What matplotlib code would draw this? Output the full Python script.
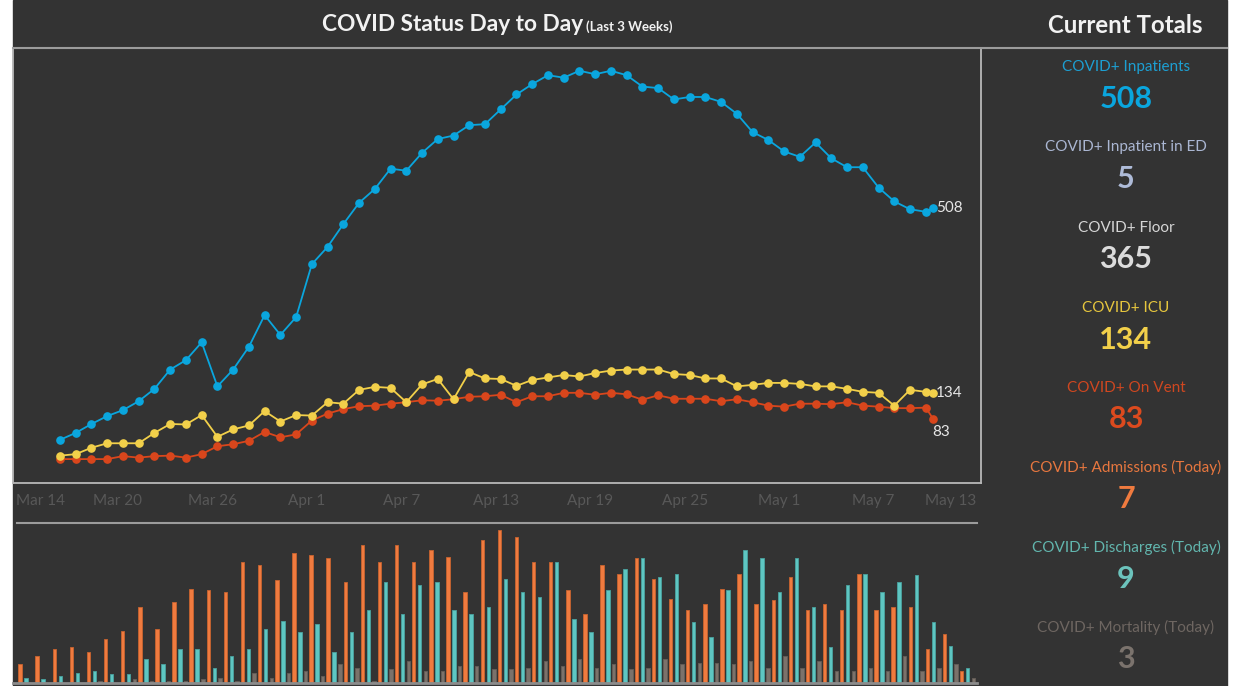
import matplotlib
matplotlib.use('Agg')
import numpy as np
import pandas as pd
import matplotlib.pyplot as plt
import matplotlib.transforms as mtransforms
from matplotlib.patches import Rectangle
from matplotlib.lines import Line2D

plt.rcParams['font.family'] = ['Lato', 'DejaVu Sans']

# ---- data ----
days = pd.date_range('2020-03-16', periods=56, freq='D')
# last point of the census lines is the current (partial) day
line_dates = list(days) + [pd.Timestamp('2020-05-10 11:00')]

inpatients = [40, 54, 72, 88, 100, 118, 143, 182, 201, 237, 148, 182, 228, 292, 252, 288,
              395, 430, 476, 519, 547, 588, 584, 620, 648, 655, 676, 678,
              708, 738, 759, 777, 772, 786, 779, 786, 777, 754, 751, 728, 733, 733,
              723, 699, 662, 646, 623, 612, 641, 609, 591, 591, 550, 522, 506, 501, 508]
icu = [8, 11, 24, 33, 33, 33, 54, 72, 71, 90, 46, 61, 69, 98, 77, 90, 89, 116, 113, 141,
       147, 145, 116, 152, 163, 122, 177, 164, 163,
       149, 161, 166, 171, 168, 175, 180, 182, 182, 182, 173, 171, 164, 164, 148, 151,
       155, 155, 153, 148, 148, 143, 137, 135, 109, 141, 137, 134]
vent = [1, 1, 1, 1, 7, 4, 7, 8, 4, 11, 27, 31, 38, 56, 45, 51, 79, 93, 102, 108, 109,
        113, 116, 120, 119, 122, 127, 128, 131,
        116, 128, 128, 135, 135, 131, 135, 132, 121, 130, 123, 123, 123, 118, 122, 116,
        109, 107, 113, 113, 112, 116, 109, 107, 104, 104, 105, 83]

admissions = [11, 16, 20, 21, 18, 26, 31, 45, 32, 48, 56, 55, 54, 72, 70, 61, 77, 76, 74, 60,
              82, 72, 82, 72, 79, 75, 54, 85, 91, 87, 72, 72, 55, 41, 70, 65, 74, 62, 50, 43,
              47, 56, 65, 47, 49, 63, 43, 47, 43, 65, 43, 45, 45, 20, 29, 7]
discharges = [3, 2, 4, 6, 7, 5, 5, 14, 11, 20, 20, 9, 16, 20, 32, 37, 30, 35, 18, 30,
              43, 60, 41, 58, 60, 43, 41, 45, 62, 54, 51, 72, 38, 30, 55, 68, 74, 63, 65, 36,
              27, 55, 79, 74, 54, 74, 45, 21, 58, 65, 54, 60, 64, 36, 22, 9]
mortality = [0, 0, 0, 0, 1, 0, 2, 1, 1, 1, 2, 3, 1, 6, 3, 6, 7, 4, 11, 9,
             1, 8, 13, 7, 7, 10, 10, 8, 8, 9, 13, 10, 14, 9, 11, 8, 9, 14, 11, 12,
             12, 11, 13, 9, 16, 9, 13, 7, 7, 9, 7, 16, 7, 9, 11, 3]

floor_now = 365
ed_now = 5

tick_days = pd.date_range('2020-03-14', '2020-05-13', freq='6D')
tick_labels = [f"{d:%b} {d.day}" for d in tick_days]

# ---- colours ----
bg = '#333333'
c_blue = '#0aa6de'
c_yellow = '#f2d04a'
c_red = '#d9461c'
c_orange = '#f07b3f'
c_teal = '#5ec6c2'
c_gray = '#7b726b'

W, H = 1239, 686
fig = plt.figure(figsize=(W / 100, H / 100), dpi=100, facecolor='white')


def fx(px):
    return px / W


def fy(py):
    return 1 - py / H


fig.patches.append(Rectangle((fx(13), 0), fx(1227) - fx(13), 1,
                             transform=fig.transFigure, color=bg, zorder=-5))
fig.add_artist(Line2D([fx(13), fx(1227)], [fy(47.7), fy(47.7)], color='#9c9c9c', lw=1.5))
fig.add_artist(Line2D([fx(17), fx(977)], [fy(522.7), fy(522.7)], color='#9c9c9c', lw=1.5))

# ---- titles ----
fig.text(fx(583), fy(31), 'COVID Status Day to Day', ha='right', va='baseline',
         color='#f2f2f2', fontsize=16.3, fontweight='bold')
fig.text(fx(586), fy(31), '(Last 3 Weeks)', ha='left', va='baseline',
         color='#f2f2f2', fontsize=9.5, fontweight='bold')
fig.text(fx(1203), fy(33), 'Current Totals', ha='right', va='baseline',
         color='#f2f2f2', fontsize=17.3, fontweight='bold')

# ---- census lines ----
ax = fig.add_axes([fx(13.3), fy(482.7), fx(981.3) - fx(13.3), fy(47.7) - fy(482.7)])
ax.set_facecolor(bg)
d0 = pd.Timestamp('2020-03-16')
ax.set_xlim(d0 - pd.Timedelta(days=2.967), d0 + pd.Timedelta(days=58.53))
ax.set_ylim(-46.7, 832.6)
for s in ax.spines.values():
    s.set_color('#b8b8b8')
    s.set_linewidth(1.3)

for vals, col in [(vent, c_red), (icu, c_yellow), (inpatients, c_blue)]:
    ax.plot(line_dates, vals, color=col, lw=1.3, marker='o', ms=5.2, mec=col, mfc=col)

ax.annotate(str(inpatients[-1]), (line_dates[-1], inpatients[-1]), xytext=(2.5, 0),
            textcoords='offset points', ha='left', va='center', color='#e6e6e6', fontsize=11)
ax.annotate(str(icu[-1]), (line_dates[-1], icu[-1]), xytext=(2, 0),
            textcoords='offset points', ha='left', va='center', color='#e6e6e6', fontsize=11)
ax.annotate(str(vent[-1]), (line_dates[-1], vent[-1]), xytext=(6, -9.5),
            textcoords='offset points', ha='center', va='center', color='#e6e6e6', fontsize=11)

ax.set_yticks([])
ax.set_xticks(tick_days)
ax.set_xticklabels(tick_labels)
ax.tick_params(axis='x', length=0, pad=8, labelcolor='#585858', labelsize=11)
labels = ax.get_xticklabels()
for i, lab in enumerate(labels):
    dx = -5
    if i == 0:
        lab.set_ha('left')
        dx = -12.5
    elif i == len(labels) - 1:
        lab.set_ha('right')
        dx = 3.7
    lab.set_transform(lab.get_transform() + mtransforms.ScaledTranslation(dx / 100, 0, fig.dpi_scale_trans))

# ---- daily bars ----
bx = fig.add_axes([fx(13.3), fy(682.7), fx(977) - fx(13.3), fy(524) - fy(682.7)])
bx.set_facecolor(bg)
bx.set_xlim(-0.742, 55.55)
bx.set_ylim(0, 94.5)
idx = np.arange(len(admissions))
bx.bar(idx - 0.35, admissions, width=0.2, color=c_orange, edgecolor='#c9632f', linewidth=0.6)
bx.bar(idx, discharges, width=0.2, color=c_teal, edgecolor='#4aa3a0', linewidth=0.6)
bx.bar(idx + 0.33, mortality, width=0.2, color=c_gray, edgecolor='#665e58', linewidth=0.6)
bx.axhline(0, color='#8c8c8c', lw=2, clip_on=False)
bx.axis('off')

# ---- current totals panel ----
panel = [
    ('COVID+ Inpatients', inpatients[-1], '#1d9fd2', c_blue),
    ('COVID+ Inpatient in ED', ed_now, '#aab6d2', '#aebbd8'),
    ('COVID+ Floor', floor_now, '#d6d6d6', '#dcdcdc'),
    ('COVID+ ICU', icu[-1], '#e6c63e', c_yellow),
    ('COVID+ On Vent', vent[-1], '#cf4720', '#dc4a1e'),
    ('COVID+ Admissions (Today)', admissions[-1], '#e8773f', c_orange),
    ('COVID+ Discharges (Today)', discharges[-1], '#62b6ae', '#6cc3bc'),
    ('COVID+ Mortality (Today)', mortality[-1], '#6e6661', '#7b736d'),
]
for k, (name, val, lc, vc) in enumerate(panel):
    y0 = 67.5 + k * 80
    fig.text(fx(1126), fy(y0), name, ha='center', va='center', color=lc, fontsize=11)
    fig.text(fx(1126), fy(y0 + 32), str(val), ha='center', va='center', color=vc,
             fontsize=22, fontweight='bold')

fig.savefig('out.png', dpi=100, facecolor=fig.get_facecolor())
